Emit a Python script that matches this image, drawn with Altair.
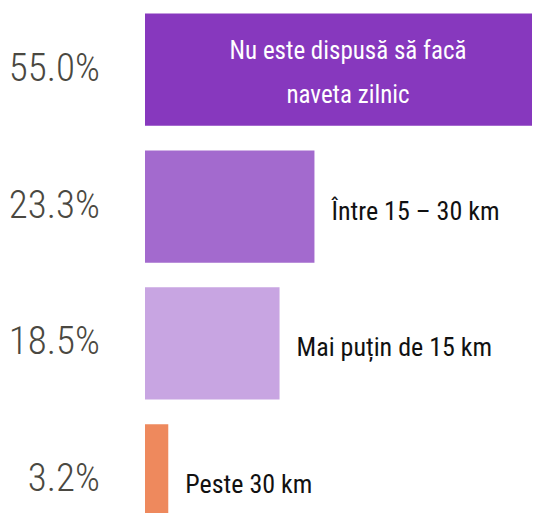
import altair as alt
import pandas as pd

categories = ["Nu este dispusă să facă\nnaveta zilnic", "Între 15 – 30 km",
              "Mai puțin de 15 km", "Peste 30 km"]
values = [55.0, 23.3, 18.5, 3.2]
pct_labels = ["55.0%", "23.3%", "18.5%", "3.2%"]
colors = ["#8738be", "#a36ace", "#c8a5e2", "#ee895d"]
inside = [True, False, False, False]

df = pd.DataFrame({"cat": categories, "value": values, "pct": pct_labels, "inside": inside})

FONT = "'Roboto Condensed', 'DejaVu Sans Condensed', Roboto, sans-serif"

y = alt.Y("cat:N", sort=categories, axis=None,
          scale=alt.Scale(paddingInner=0.18, paddingOuter=0.04, range=[0, 534]))
x_scale = alt.Scale(domain=[0, 55], range=[0, 400])
base = alt.Chart(df).encode(y=y)

bars = base.mark_bar().encode(
    x=alt.X("value:Q", scale=x_scale, axis=None),
    color=alt.Color("cat:N", sort=categories,
                    scale=alt.Scale(domain=categories, range=colors), legend=None),
)

pct = base.mark_text(align="right", baseline="middle", font=FONT, fontSize=39,
                     fontWeight=300, color="#4a4841", dy=-1).encode(
    x=alt.value(-45), text="pct:N")

outside = base.transform_filter("!datum.inside").mark_text(
    align="left", baseline="middle", dx=17, dy=5, font=FONT, fontSize=26, color="#111111"
).encode(x=alt.X("value:Q", scale=x_scale), text="cat:N")

inner = base.transform_filter("datum.inside").transform_calculate(
    mid="datum.value / 2").mark_text(
    align="center", baseline="middle", lineBreak="\n", lineHeight=44, dx=3, dy=-19,
    font=FONT, fontSize=25, color="white"
).encode(x=alt.X("mid:Q", scale=x_scale), text="cat:N")

chart = alt.layer(bars, pct, outside, inner).properties(
    width=387, height=505,
    autosize=alt.AutoSizeParams(type="none"),
    padding={"left": 137, "top": 0, "right": 0, "bottom": 0},
    background="white",
).configure_view(stroke=None)

chart.save("out.html", embed_options={"renderer": "svg", "actions": False})
